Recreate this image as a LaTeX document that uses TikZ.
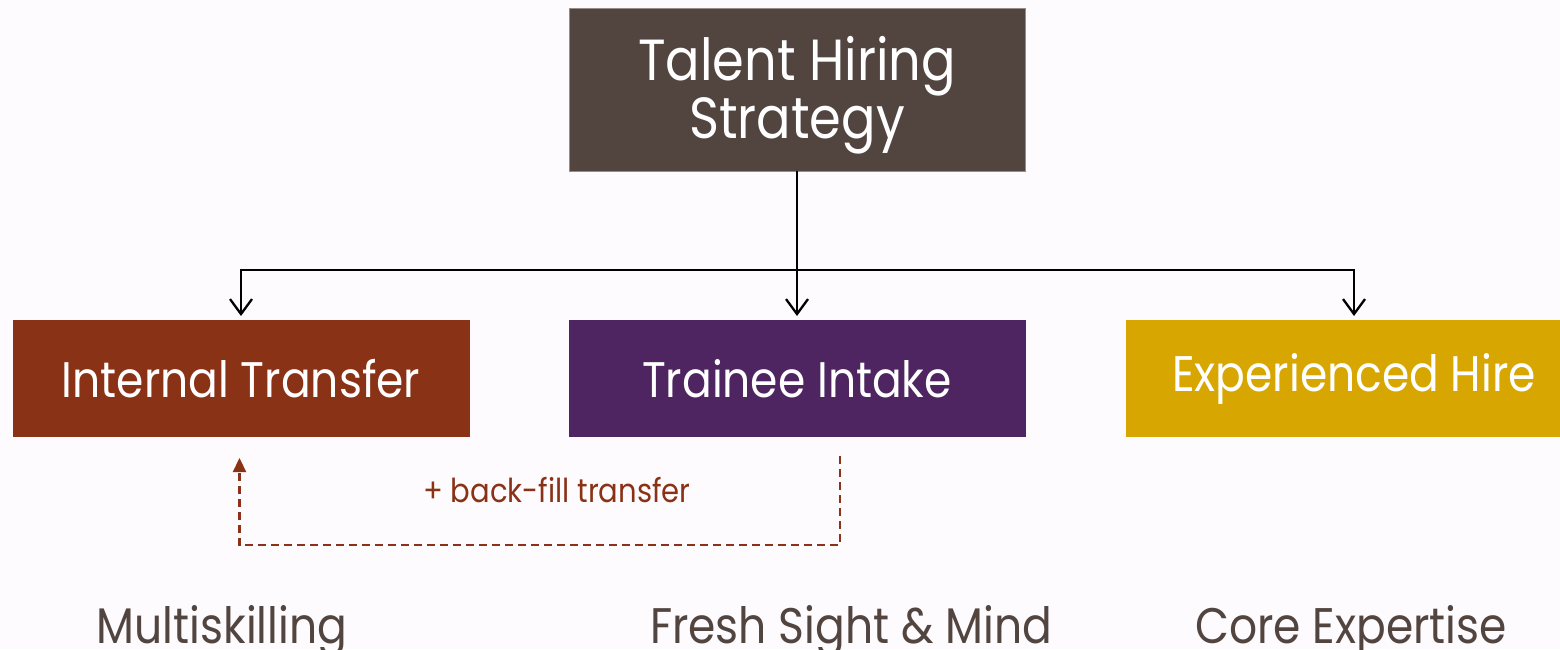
\documentclass[tikz,border=0pt]{standalone}
\usepackage{fontspec}
\setmainfont{Poppins}[FakeStretch=0.88]
\usepackage{tikz}
\usetikzlibrary{positioning}
\usetikzlibrary{arrows.meta}
\usetikzlibrary{calc}
\definecolor{bgpink}{RGB}{253,251,254}
\definecolor{strategybrown}{RGB}{82,69,64}
\definecolor{strategyedge}{RGB}{150,140,136}
\definecolor{transferred}{RGB}{138,50,22}
\definecolor{traineepurple}{RGB}{78,37,96}
\definecolor{hiregold}{RGB}{215,166,0}

\begin{document}
\begin{tikzpicture}[
            x = 1pt, y = -1pt, % pixel grid, y runs down
            > = {Straight Barb[length=15pt,width=22pt]}, % arrow head style
            shorten > = 4pt, % don't touch arrow head to node
            line width = 2.3pt,
            outer sep = 0pt
        ]

        \tikzstyle{headbox}=[
            rectangle,
            fill = strategybrown,
            draw = strategyedge,
            line width = 1pt,
            text = white,
            align = center,
            minimum width = 456pt,
            minimum height = 163pt,
            font = \fontsize{58}{58}\selectfont
        ]
        \tikzstyle{branch}=[
            rectangle,
            text = white,
            inner sep = 0pt,
            minimum width = 457pt,
            minimum height = 117pt,
            font = \fontsize{50}{60}\selectfont
        ]
        \tikzstyle{outcome}=[
            text = strategybrown,
            anchor = base,
            inner sep = 0pt,
            font = \fontsize{50}{60}\selectfont
        ]

        \useasboundingbox (0,0) rectangle (1560,649);
        \fill[bgpink] (0,0) rectangle (1560,649);

	% strategy level
        \node[headbox] (strategy) at (797,89.5) {\rule{0pt}{56pt}Talent Hiring\\Strategy};

        % hiring routes
        \node[branch, fill = traineepurple] (trainee) [below = 149pt of strategy] {Trainee Intake};
        \node[branch, fill = transferred] (internal) [left = 99pt of trainee] {Internal Transfer};
        \node[branch, fill = hiregold] (experienced) [right = 100pt of trainee] {Experienced Hire};

        \coordinate (fork) at ($(strategy.south)+(0,99)$);
        \draw[->] (strategy) -- (trainee);
        \draw[->] (fork) -| (internal);
        \draw[->] (fork) -| (experienced);

        % back-fill
        \draw[transferred, dash pattern = on 8pt off 5pt, shorten > = 0pt,
              -{Triangle[length=14pt,width=13pt]}]
            ([shift={(43,19)}]trainee.south) -- ++(0,89) -| ([shift={(-1.5,21)}]internal.south);
        \node[text = transferred, font = \fontsize{33}{40}\selectfont] (backfill) at (557,490) {+ back-fill transfer};

        % outcomes
        \node[outcome] (multi) at (222,643) {Multiskilling};
        \node[outcome] (fresh) at (851,643) {Fresh Sight \& Mind};
        \node[outcome] (core) at (1351,643) {Core Expertise};

  \end{tikzpicture}
\end{document}
